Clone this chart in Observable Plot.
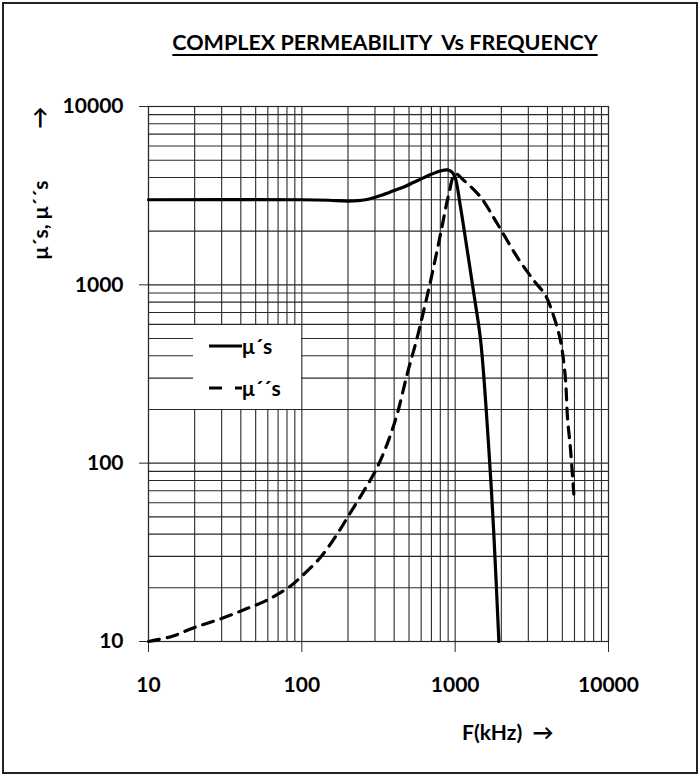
<!DOCTYPE html>
<html>
<head>
<meta charset="utf-8">
<script src="https://cdn.jsdelivr.net/npm/d3@7"></script>
<script src="https://cdn.jsdelivr.net/npm/@observablehq/plot@0.6"></script>
<style>
  html, body { margin: 0; padding: 0; background: #fff; }
  #wrap { position: relative; width: 699px; height: 775px; font-family: Lato, "Open Sans", sans-serif; font-weight: bold; color: #000; overflow: hidden; }
  #border { position: absolute; left: 2px; top: 2px; width: 692px; height: 768px; border: 2px solid #222; }
  .t { position: absolute; white-space: nowrap; }
  #title { left: 0; width: 770px; top: 29px; text-align: center; font-size: 21.5px; text-decoration: underline; text-underline-offset: 4px; }
  #ylab { left: 39px; top: 220px; font-size: 21px; transform: translate(-50%, -50%) rotate(-90deg); }
  #yarrow { left: 32px; top: 103px; font-size: 22px; }
  #xlab { left: 462px; top: 719px; font-size: 21px; }
  #chart { position: absolute; left: 0; top: 0; }
  #legend { position: absolute; left: 193px; top: 325px; width: 108px; height: 84px; background: #fff; }
</style>
</head>
<body>
<div id="wrap">
  <div id="chart"></div>
  <div id="legend">
    <svg width="108" height="84" style="position:absolute;left:0;top:0">
      <line x1="16" x2="49" y1="21" y2="21" stroke="#000" stroke-width="3.2"/>
      <line x1="16" x2="49" y1="63" y2="63" stroke="#000" stroke-width="3.2" stroke-dasharray="13,13"/>
    </svg>
    <div class="t" style="left:49px;top:8px;font-size:21px">μ´s</div>
    <div class="t" style="left:49px;top:50px;font-size:21px">μ´´s</div>
  </div>
  <div class="t" id="title">COMPLEX PERMEABILITY&nbsp; Vs FREQUENCY</div>
  <div class="t" id="ylab">μ´s, μ´´s</div>
  <div class="t" id="yarrow">↑</div>
  <div class="t" id="xlab">F(kHz)&nbsp; →</div>
  <div id="border"></div>
</div>
<script>
// Solid curve: mu' (real part)
const muRealF = [10, 100, 150, 200, 260, 326, 400, 470, 538, 620, 700, 800, 887, 950, 1000, 1084, 1200, 1324, 1466, 1660, 1787, 1928];
const muRealV = [3000, 3000, 2980, 2950, 3000, 3170, 3380, 3560, 3760, 3980, 4170, 4350, 4415, 4300, 4000, 2720, 1555, 890, 487, 118, 40, 10];

// Dashed curve: mu'' (imaginary part)
const muImagF = [10, 14.3, 20, 30.3, 43, 58, 82, 98, 132, 170, 208, 254, 303, 360, 419, 487, 566, 692, 803, 910, 1000, 1140, 1466, 1884, 2540, 3260, 3890, 4300, 4730, 4990, 5250, 5400, 5660, 5940];
const muImagV = [10, 10.7, 12, 13.5, 15.2, 16.9, 20.1, 22.9, 29.6, 40, 53, 70, 91, 128, 189, 317, 508, 1057, 1930, 3240, 4190, 3850, 3100, 2200, 1430, 1057, 871, 702, 540, 428, 290, 181, 118, 67];

// Axis ticks and grid lines
const majorTicks = [10, 100, 1000, 10000];
const gridValues = [10, 20, 30, 40, 50, 60, 70, 80, 90,
  100, 200, 300, 400, 500, 600, 700, 800, 900,
  1000, 2000, 3000, 4000, 5000, 6000, 7000, 8000, 9000, 10000];

const realData = muRealF.map((f, i) => ({f, v: muRealV[i]}));
const imagData = muImagF.map((f, i) => ({f, v: muImagV[i]}));

const chart = Plot.plot({
  width: 699,
  height: 775,
  marginLeft: 148,
  marginRight: 91,
  marginTop: 106,
  marginBottom: 134,
  style: {fontFamily: "Lato, 'Open Sans', sans-serif", fontWeight: "bold", fontSize: "21px", color: "#000", background: "transparent"},
  x: {type: "log", domain: [10, 10000], label: null},
  y: {type: "log", domain: [10, 10000], label: null},
  marks: [
    Plot.ruleX(gridValues, {stroke: "#2a2a2a", strokeWidth: 1.1}),
    Plot.ruleY(gridValues, {stroke: "#2a2a2a", strokeWidth: 1.1}),
    Plot.frame({stroke: "#2a2a2a", strokeWidth: 1.2}),
    Plot.axisX(majorTicks, {tickSize: 11, tickPadding: 25, tickFormat: d => String(d), stroke: "#2a2a2a", label: null}),
    Plot.axisY(majorTicks, {tickSize: 9, tickPadding: 16, tickFormat: d => String(d), stroke: "#2a2a2a", label: null}),
    Plot.line(realData, {x: "f", y: "v", stroke: "#000", strokeWidth: 3.2, curve: "catmull-rom"}),
    Plot.line(imagData, {x: "f", y: "v", stroke: "#000", strokeWidth: 3.2, strokeDasharray: "11,8", curve: "catmull-rom"})
  ]
});
document.getElementById("chart").appendChild(chart);
</script>
</body>
</html>
